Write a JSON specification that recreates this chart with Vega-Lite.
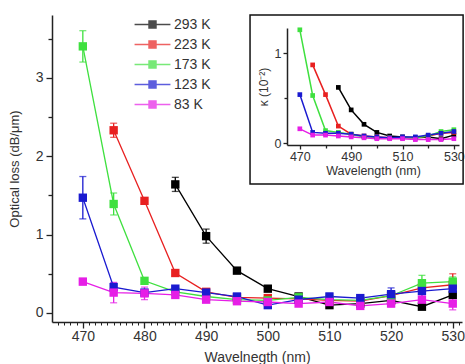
{
  "$schema": "https://vega.github.io/schema/vega-lite/v6.json",
  "width": 410,
  "height": 307,
  "autosize": {"type": "none"},
  "padding": {"left": 52, "top": 15, "right": 3, "bottom": 42},
  "background": "white",
  "config": {
    "view": {"stroke": null},
    "font": "Liberation Sans",
    "axis": {"grid": false, "domainColor": "#222", "tickColor": "#222", "labelColor": "#333", "titleColor": "#333", "titleFontWeight": "normal", "domainWidth": 1.5, "tickWidth": 1.3, "zindex": 2}
  },
  "datasets": {
    "main": [
      {"T": "293 K", "wl": 485, "loss": 1.64, "err": 0.09},
      {"T": "293 K", "wl": 490, "loss": 0.98, "err": 0.09},
      {"T": "293 K", "wl": 495, "loss": 0.54, "err": 0.03},
      {"T": "293 K", "wl": 500, "loss": 0.31, "err": 0.03},
      {"T": "293 K", "wl": 505, "loss": 0.21, "err": 0.03},
      {"T": "293 K", "wl": 510, "loss": 0.1, "err": 0.03},
      {"T": "293 K", "wl": 515, "loss": 0.12, "err": 0.03},
      {"T": "293 K", "wl": 520, "loss": 0.16, "err": 0.03},
      {"T": "293 K", "wl": 525, "loss": 0.08, "err": 0.03},
      {"T": "293 K", "wl": 530, "loss": 0.23, "err": 0.04},
      {"T": "223 K", "wl": 475, "loss": 2.33, "err": 0.09},
      {"T": "223 K", "wl": 480, "loss": 1.43, "err": 0.03},
      {"T": "223 K", "wl": 485, "loss": 0.51, "err": 0.03},
      {"T": "223 K", "wl": 490, "loss": 0.27, "err": 0.03},
      {"T": "223 K", "wl": 495, "loss": 0.2, "err": 0.03},
      {"T": "223 K", "wl": 500, "loss": 0.19, "err": 0.04},
      {"T": "223 K", "wl": 505, "loss": 0.18, "err": 0.03},
      {"T": "223 K", "wl": 510, "loss": 0.16, "err": 0.03},
      {"T": "223 K", "wl": 515, "loss": 0.15, "err": 0.03},
      {"T": "223 K", "wl": 520, "loss": 0.22, "err": 0.04},
      {"T": "223 K", "wl": 525, "loss": 0.32, "err": 0.05},
      {"T": "223 K", "wl": 530, "loss": 0.36, "err": 0.14},
      {"T": "173 K", "wl": 470, "loss": 3.4, "err": 0.2},
      {"T": "173 K", "wl": 475, "loss": 1.39, "err": 0.14},
      {"T": "173 K", "wl": 480, "loss": 0.41, "err": 0.03},
      {"T": "173 K", "wl": 485, "loss": 0.27, "err": 0.03},
      {"T": "173 K", "wl": 490, "loss": 0.21, "err": 0.03},
      {"T": "173 K", "wl": 495, "loss": 0.17, "err": 0.03},
      {"T": "173 K", "wl": 500, "loss": 0.16, "err": 0.03},
      {"T": "173 K", "wl": 505, "loss": 0.2, "err": 0.03},
      {"T": "173 K", "wl": 510, "loss": 0.17, "err": 0.03},
      {"T": "173 K", "wl": 515, "loss": 0.16, "err": 0.03},
      {"T": "173 K", "wl": 520, "loss": 0.22, "err": 0.04},
      {"T": "173 K", "wl": 525, "loss": 0.38, "err": 0.1},
      {"T": "173 K", "wl": 530, "loss": 0.4, "err": 0.06},
      {"T": "123 K", "wl": 470, "loss": 1.47, "err": 0.27},
      {"T": "123 K", "wl": 475, "loss": 0.33, "err": 0.05},
      {"T": "123 K", "wl": 480, "loss": 0.26, "err": 0.03},
      {"T": "123 K", "wl": 485, "loss": 0.31, "err": 0.03},
      {"T": "123 K", "wl": 490, "loss": 0.26, "err": 0.03},
      {"T": "123 K", "wl": 495, "loss": 0.21, "err": 0.03},
      {"T": "123 K", "wl": 500, "loss": 0.1, "err": 0.03},
      {"T": "123 K", "wl": 505, "loss": 0.17, "err": 0.03},
      {"T": "123 K", "wl": 510, "loss": 0.21, "err": 0.04},
      {"T": "123 K", "wl": 515, "loss": 0.19, "err": 0.04},
      {"T": "123 K", "wl": 520, "loss": 0.24, "err": 0.08},
      {"T": "123 K", "wl": 525, "loss": 0.28, "err": 0.07},
      {"T": "123 K", "wl": 530, "loss": 0.31, "err": 0.08},
      {"T": "83 K", "wl": 470, "loss": 0.4, "err": 0.04},
      {"T": "83 K", "wl": 475, "loss": 0.26, "err": 0.13},
      {"T": "83 K", "wl": 480, "loss": 0.25, "err": 0.08},
      {"T": "83 K", "wl": 485, "loss": 0.23, "err": 0.03},
      {"T": "83 K", "wl": 490, "loss": 0.17, "err": 0.03},
      {"T": "83 K", "wl": 495, "loss": 0.15, "err": 0.03},
      {"T": "83 K", "wl": 500, "loss": 0.14, "err": 0.03},
      {"T": "83 K", "wl": 505, "loss": 0.12, "err": 0.03},
      {"T": "83 K", "wl": 510, "loss": 0.14, "err": 0.03},
      {"T": "83 K", "wl": 515, "loss": 0.09, "err": 0.03},
      {"T": "83 K", "wl": 520, "loss": 0.12, "err": 0.04},
      {"T": "83 K", "wl": 525, "loss": 0.17, "err": 0.07},
      {"T": "83 K", "wl": 530, "loss": 0.12, "err": 0.08}
    ],
    "inset": [
      {"T": "293 K", "wl": 485, "k": 0.62}, {"T": "293 K", "wl": 490, "k": 0.37}, {"T": "293 K", "wl": 495, "k": 0.21}, {"T": "293 K", "wl": 500, "k": 0.12}, {"T": "293 K", "wl": 505, "k": 0.08}, {"T": "293 K", "wl": 510, "k": 0.07}, {"T": "293 K", "wl": 515, "k": 0.06}, {"T": "293 K", "wl": 520, "k": 0.07}, {"T": "293 K", "wl": 525, "k": 0.05}, {"T": "293 K", "wl": 530, "k": 0.09},
      {"T": "223 K", "wl": 475, "k": 0.87}, {"T": "223 K", "wl": 480, "k": 0.54}, {"T": "223 K", "wl": 485, "k": 0.19}, {"T": "223 K", "wl": 490, "k": 0.1}, {"T": "223 K", "wl": 495, "k": 0.08}, {"T": "223 K", "wl": 500, "k": 0.07}, {"T": "223 K", "wl": 505, "k": 0.06}, {"T": "223 K", "wl": 510, "k": 0.06}, {"T": "223 K", "wl": 515, "k": 0.06}, {"T": "223 K", "wl": 520, "k": 0.08}, {"T": "223 K", "wl": 525, "k": 0.11}, {"T": "223 K", "wl": 530, "k": 0.12},
      {"T": "173 K", "wl": 470, "k": 1.26}, {"T": "173 K", "wl": 475, "k": 0.53}, {"T": "173 K", "wl": 480, "k": 0.14}, {"T": "173 K", "wl": 485, "k": 0.12}, {"T": "173 K", "wl": 490, "k": 0.1}, {"T": "173 K", "wl": 495, "k": 0.07}, {"T": "173 K", "wl": 500, "k": 0.06}, {"T": "173 K", "wl": 505, "k": 0.06}, {"T": "173 K", "wl": 510, "k": 0.06}, {"T": "173 K", "wl": 515, "k": 0.06}, {"T": "173 K", "wl": 520, "k": 0.08}, {"T": "173 K", "wl": 525, "k": 0.13}, {"T": "173 K", "wl": 530, "k": 0.15},
      {"T": "123 K", "wl": 470, "k": 0.54}, {"T": "123 K", "wl": 475, "k": 0.12}, {"T": "123 K", "wl": 480, "k": 0.11}, {"T": "123 K", "wl": 485, "k": 0.11}, {"T": "123 K", "wl": 490, "k": 0.1}, {"T": "123 K", "wl": 495, "k": 0.08}, {"T": "123 K", "wl": 500, "k": 0.07}, {"T": "123 K", "wl": 505, "k": 0.06}, {"T": "123 K", "wl": 510, "k": 0.07}, {"T": "123 K", "wl": 515, "k": 0.07}, {"T": "123 K", "wl": 520, "k": 0.09}, {"T": "123 K", "wl": 525, "k": 0.11}, {"T": "123 K", "wl": 530, "k": 0.13},
      {"T": "83 K", "wl": 470, "k": 0.16}, {"T": "83 K", "wl": 475, "k": 0.09}, {"T": "83 K", "wl": 480, "k": 0.09}, {"T": "83 K", "wl": 485, "k": 0.08}, {"T": "83 K", "wl": 490, "k": 0.07}, {"T": "83 K", "wl": 495, "k": 0.06}, {"T": "83 K", "wl": 500, "k": 0.05}, {"T": "83 K", "wl": 505, "k": 0.05}, {"T": "83 K", "wl": 510, "k": 0.05}, {"T": "83 K", "wl": 515, "k": 0.04}, {"T": "83 K", "wl": 520, "k": 0.04}, {"T": "83 K", "wl": 525, "k": 0.04}, {"T": "83 K", "wl": 530, "k": 0.05}
    ],
    "frame": [{"x1": 450.6, "x2": 533.6, "y1": -0.453, "y2": 1.424}]
  },
  "layer": [
    {
      "data": {"name": "main"},
      "encoding": {
        "x": {"field": "wl", "type": "quantitative", "scale": {"domain": [465, 531.5], "nice": false, "zero": false},
          "axis": {"orient": "bottom", "values": [470, 480, 490, 500, 510, 520, 530], "title": "Wavelnegth (nm)", "labelFontSize": 14, "titleFontSize": 14, "tickSize": 6, "labelPadding": 1, "titlePadding": 7}},
        "y": {"field": "loss", "type": "quantitative", "scale": {"domain": [-0.115, 3.8], "nice": false, "zero": false},
          "axis": {"orient": "left", "values": [0, 1, 2, 3], "title": "Optical loss (dB/μm)", "labelFontSize": 14, "titleFontSize": 13, "tickSize": 6, "labelPadding": 3, "titlePadding": 14}},
        "color": {"field": "T", "type": "nominal",
          "scale": {"domain": ["293 K", "223 K", "173 K", "123 K", "83 K"], "range": ["#000000", "#e82020", "#3fe03f", "#1a1ad0", "#e61ee6"]},
          "legend": {"orient": "none", "legendX": 88, "legendY": -3, "title": null, "labelFontSize": 14, "labelColor": "#333",
            "symbolType": "M-1.55,0H1.55M-0.3,-0.3H0.3V0.3H-0.3Z", "symbolSize": 535, "symbolStrokeWidth": 1.5, "rowPadding": 0, "labelOffset": 9}}
      },
      "layer": [
        {"mark": {"type": "errorbar", "ticks": {"size": 7}, "thickness": 1.3}, "encoding": {"yError": {"field": "err"}}},
        {"mark": {"type": "line", "strokeWidth": 1.3}},
        {"mark": {"type": "point", "shape": "square", "filled": true, "size": 70, "opacity": 1}}
      ]
    },
    {
      "data": {"name": "main"},
      "mark": {"type": "point", "opacity": 0},
      "encoding": {
        "x": {"field": "wl", "type": "quantitative", "scale": {"domain": [465, 531.5], "nice": false, "zero": false},
          "axis": {"orient": "bottom", "values": [466, 467, 468, 469, 470, 471, 472, 473, 474, 475, 476, 477, 478, 479, 480, 481, 482, 483, 484, 485, 486, 487, 488, 489, 490, 491, 492, 493, 494, 495, 496, 497, 498, 499, 500, 501, 502, 503, 504, 505, 506, 507, 508, 509, 510, 511, 512, 513, 514, 515, 516, 517, 518, 519, 520, 521, 522, 523, 524, 525, 526, 527, 528, 529, 530, 531], "labels": false, "domain": false, "title": null, "tickSize": 3, "tickWidth": 1}},
        "y": {"field": "loss", "type": "quantitative", "scale": {"domain": [-0.115, 3.8], "nice": false, "zero": false},
          "axis": {"orient": "left", "values": [0.5, 1.5, 2.5, 3.5], "labels": false, "domain": false, "title": null, "tickSize": 4}}
      }
    },
    {
      "layer": [
        {
          "data": {"name": "frame"},
          "mark": {"type": "rect", "filled": false, "stroke": "#111", "strokeWidth": 1.5},
          "encoding": {
            "x": {"field": "x1", "type": "quantitative", "scale": {"domain": [465, 532], "range": [235, 407], "nice": false, "zero": false},
              "axis": {"orient": "bottom", "offset": -177, "values": [470, 490, 510, 530], "format": "d", "title": "Wavelength (nm)", "labelFontSize": 12.5, "titleFontSize": 12.5, "tickSize": 4, "labelPadding": 1, "titlePadding": 2}},
            "x2": {"field": "x2"},
            "y": {"field": "y1", "type": "quantitative", "scale": {"domain": [-0.02, 1.28], "range": [130, 13], "nice": false, "zero": false},
              "axis": {"orient": "left", "offset": -235, "values": [0, 1], "format": "d", "title": "κ (10⁻²)", "labelFontSize": 12.5, "titleFontSize": 12, "tickSize": 4, "labelPadding": 2, "titlePadding": 4}},
            "y2": {"field": "y2"}
          }
        },
        {
          "data": {"name": "inset"},
          "encoding": {
            "x": {"field": "wl", "type": "quantitative"},
            "y": {"field": "k", "type": "quantitative"},
            "color": {"field": "T", "type": "nominal", "legend": null}
          },
          "layer": [
            {"mark": {"type": "line", "strokeWidth": 1.5}},
            {"mark": {"type": "point", "shape": "square", "filled": true, "size": 22, "opacity": 1}}
          ]
        }
      ]
    },
    {
      "data": {"name": "inset"},
      "mark": {"type": "point", "opacity": 0},
      "encoding": {
        "x": {"field": "wl", "type": "quantitative", "scale": {"domain": [465, 532], "range": [235, 407], "nice": false, "zero": false},
          "axis": {"orient": "bottom", "offset": -177, "values": [480, 500, 520], "labels": false, "domain": false, "title": null, "tickSize": 3}},
        "y": {"field": "k", "type": "quantitative", "scale": {"domain": [-0.02, 1.28], "range": [130, 13], "nice": false, "zero": false},
          "axis": {"orient": "left", "offset": -235, "values": [0.5], "labels": false, "domain": false, "title": null, "tickSize": 3}}
      }
    }
  ],
  "resolve": {"scale": {"x": "independent", "y": "independent"}, "axis": {"x": "independent", "y": "independent"}}
}
